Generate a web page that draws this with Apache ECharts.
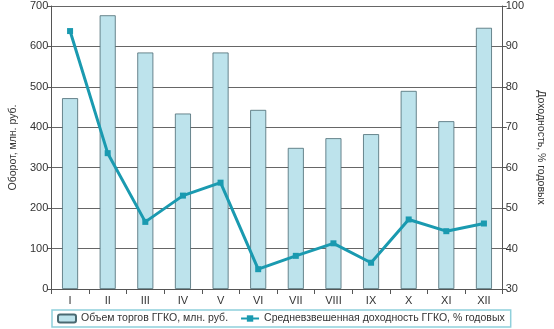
<!DOCTYPE html>
<html><head><meta charset="utf-8">
<script src="https://cdn.jsdelivr.net/npm/echarts@6/dist/echarts.min.js"></script>
<style>html,body{margin:0;padding:0;background:#fff}#c{width:554px;height:329px}</style>
</head><body><div id="c"></div>
<script>
const categories = ['I','II','III','IV','V','VI','VII','VIII','IX','X','XI','XII'];
const volume = [472, 677, 585, 434, 585, 443, 349, 373, 383, 490, 415, 646];
const yieldPct = [93.8, 63.6, 46.6, 53.1, 56.3, 34.9, 38.2, 41.3, 36.5, 47.2, 44.3, 46.2];
const leftTicks = [0, 700, 100];
const rightTicks = [30, 100, 10];
const volumeName = 'Объем торгов ГГКО, млн. руб.';
const yieldName = 'Средневзвешенная доходность ГГКО, % годовых';

const chart = echarts.init(document.getElementById('c'), null, {renderer:'canvas'});
const font = 'Arial, "Liberation Sans", sans-serif';
chart.setOption({
  animation:false,
  textStyle:{fontFamily:font},
  grid:{left:33, right:32, top:6, bottom:40},
  legend:{
    bottom:2, left:52, orient:'horizontal',
    padding:[3,6,3,5],
    borderColor:'#8fd0db', borderWidth:1.5,
    itemGap:12, itemWidth:18, itemHeight:8,
    textStyle:{fontSize:10.5, color:'#333', fontFamily:font},
    data:[{name:volumeName, icon:'roundRect'}, {name:yieldName}]
  },
  xAxis:{
    type:'category', data:categories,
    axisLine:{lineStyle:{color:'#555', width:1}},
    axisTick:{show:true, length:5, lineStyle:{color:'#555'}},
    axisLabel:{color:'#333', fontSize:11, margin:6}
  },
  yAxis:[{
    type:'value', min:leftTicks[0], max:leftTicks[1], interval:leftTicks[2],
    name:'Оборот, млн. руб.', nameLocation:'middle', nameGap:26, nameRotate:90,
    nameTextStyle:{fontSize:10.5, color:'#333'},
    axisLine:{show:true, lineStyle:{color:'#555'}},
    axisTick:{show:true, length:4, lineStyle:{color:'#555'}},
    axisLabel:{color:'#333', fontSize:11, margin:3},
    splitLine:{lineStyle:{color:'#666', width:1}}
  },{
    type:'value', min:rightTicks[0], max:rightTicks[1], interval:rightTicks[2],
    name:'Доходность, % годовых', nameLocation:'middle', nameGap:24, nameRotate:-90,
    nameTextStyle:{fontSize:10.5, color:'#333'},
    axisLine:{show:true, lineStyle:{color:'#555'}},
    axisTick:{show:true, length:4, lineStyle:{color:'#555'}},
    axisLabel:{color:'#333', fontSize:11, margin:3},
    splitLine:{show:false}
  }],
  series:[{
    name:volumeName, type:'bar', data:volume, barWidth:16,
    itemStyle:{color:'#bde3ec', borderColor:'#4a6a72', borderWidth:0.8}
  },{
    name:yieldName, type:'line', yAxisIndex:1, data:yieldPct,
    symbol:'rect', symbolSize:6, lineStyle:{color:'#1a9ab0', width:3},
    itemStyle:{color:'#1a9ab0'}
  }]
});
</script></body></html>
